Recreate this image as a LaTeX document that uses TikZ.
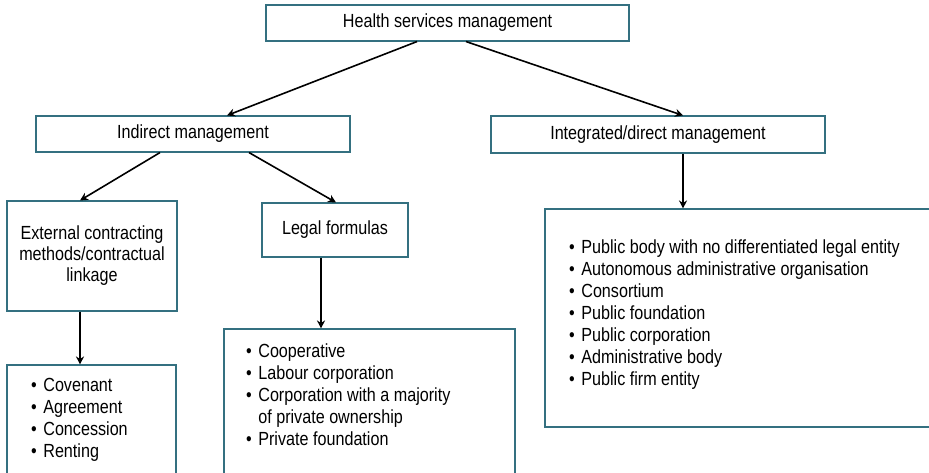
\documentclass[tikz,border=0pt]{standalone}
\usepackage{fontspec}
\setmainfont{Liberation Sans}[FakeStretch=0.85]
\usetikzlibrary{arrows.meta}
\definecolor{boxline}{RGB}{52,112,128}
\begin{document}
\begin{tikzpicture}[x=1pt,y=-1pt,
  box/.style={draw=boxline,line width=1.1pt,fill=white,rectangle,inner sep=0pt,
    minimum width=#1},
  lbl/.style={inner sep=0pt,font=\fontsize{19}{21}\selectfont,align=center},
  lst/.style={inner sep=0pt,anchor=north west,font=\fontsize{19}{22}\selectfont},
  arr/.style={line width=1.6pt,-{Stealth[length=8pt,width=8pt]}}]
\useasboundingbox (0,0) rectangle (929,472);
\clip (0,0) rectangle (929,472);
\newcommand{\blist}[1]{\begin{tabular}{@{}l@{\hspace{6.5pt}}l@{}}#1\end{tabular}}
% boxes
\node[box=363pt,minimum height=36pt] (top) at (447.5,23) {};
\node[box=314pt,minimum height=36pt] (ind) at (193,134) {};
\node[box=334pt,minimum height=37pt] (integ) at (658,134.5) {};
\node[box=170pt,minimum height=110pt] (ext) at (92,256) {};
\node[box=146pt,minimum height=54pt] (legal) at (335,230) {};
\node[box=169pt,minimum height=140pt] (cov) at (91.5,435) {};
\node[box=291pt,minimum height=175pt] (coop) at (369.5,416.5) {};
\node[box=400pt,minimum height=218pt] (pub) at (745,318) {};
% labels
\node[lbl] (topt) at (top) {Health services management};
\node[lbl] (indt) at (ind) {Indirect management};
\node[lbl] (integt) at (integ) {Integrated/direct management};
\node[lbl] (extt) at (ext) {External contracting\\methods/contractual\\linkage};
\node[lbl] (legalt) at (legal) {Legal formulas};
\node[lst] (covl) at (31,376) {\blist{\textbullet & Covenant\\ \textbullet & Agreement\\ \textbullet & Concession\\ \textbullet & Renting}};
\node[lst] (coopl) at (246,342) {\blist{\textbullet & Cooperative\\ \textbullet & Labour corporation\\ \textbullet & Corporation with a majority\\ & of private ownership\\ \textbullet & Private foundation}};
\node[lst] (publ) at (569,238) {\blist{\textbullet & Public body with no differentiated legal entity\\ \textbullet & Autonomous administrative organisation\\ \textbullet & Consortium\\ \textbullet & Public foundation\\ \textbullet & Public corporation\\ \textbullet & Administrative body\\ \textbullet & Public firm entity}};
% connectors
\draw[arr] ([xshift=-30.5pt]top.south) -- ([xshift=34pt]ind.north);
\draw[arr] ([xshift=18.5pt]top.south) -- ([xshift=25pt]integ.north);
\draw[arr] ([xshift=-33pt]ind.south) -- ([xshift=-12pt]ext.north);
\draw[arr] ([xshift=56pt]ind.south) -- ([xshift=1pt]legal.north);
\draw[arr] ([xshift=-12pt]ext.south) -- ([xshift=-11.5pt]cov.north);
\draw[arr] ([xshift=-14pt]legal.south) -- ([xshift=-48.5pt]coop.north);
\draw[arr] ([xshift=25pt]integ.south) -- ([xshift=-62pt]pub.north);
\end{tikzpicture}
\end{document}
